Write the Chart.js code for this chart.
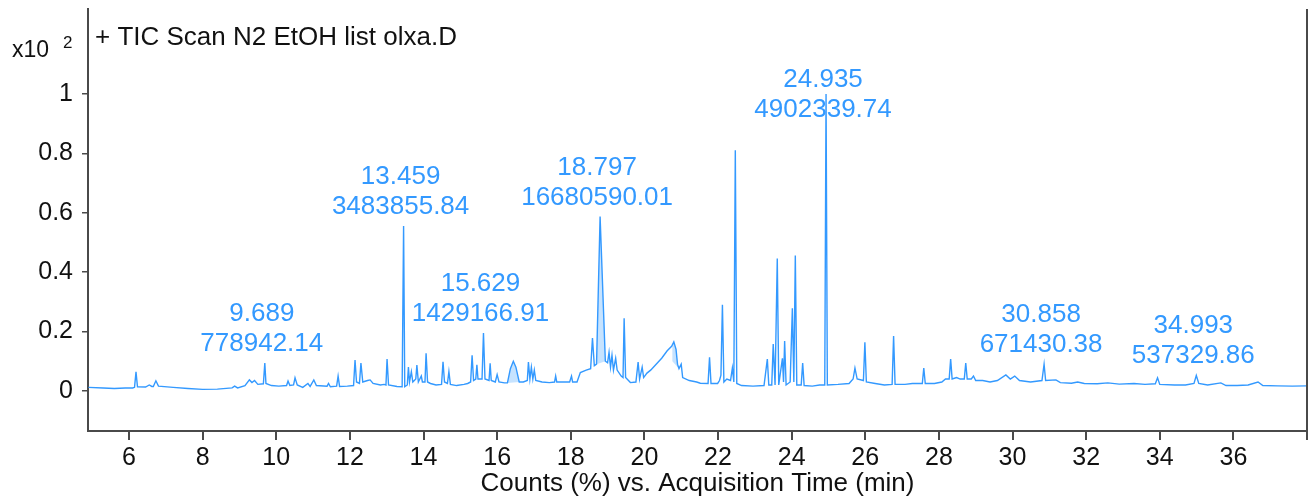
<!DOCTYPE html>
<html>
<head>
<meta charset="utf-8">
<script src="https://cdn.jsdelivr.net/npm/chart.js@4.4.1/dist/chart.umd.min.js"></script>
<style>
  html, body { margin: 0; padding: 0; background: #fff; }
  #wrap { width: 1312px; height: 499px; }
</style>
</head>
<body>
<div id="wrap"><canvas id="tic" width="1312" height="499"></canvas></div>
<script>
  // retention time (min), counts (x10^2 %)
  const trace = [
    [4.9,0.012],[5.3,0.010],[5.6,0.008],[5.9,0.010],[6.1,0.010],[6.15,0.012],[6.19,0.064],[6.23,0.014],
    [6.45,0.013],[6.55,0.02],[6.62,0.015],[6.66,0.015],[6.73,0.034],[6.8,0.016],[7.2,0.012],[7.6,0.008],
    [8.0,0.005],[8.4,0.006],[8.8,0.010],[8.87,0.016],[8.95,0.010],[9.15,0.018],[9.27,0.037],[9.34,0.028],
    [9.41,0.035],[9.5,0.022],[9.65,0.024],[9.689,0.094],[9.72,0.025],[9.87,0.018],[10.07,0.016],[10.28,0.018],
    [10.32,0.033],[10.37,0.018],[10.47,0.02],[10.51,0.044],[10.57,0.02],[10.72,0.012],[10.86,0.025],[10.92,0.015],
    [11.02,0.037],[11.09,0.018],[11.38,0.016],[11.42,0.025],[11.47,0.014],[11.64,0.016],[11.68,0.05],[11.72,0.015],
    [11.93,0.016],[12.1,0.018],[12.14,0.104],[12.18,0.03],[12.26,0.025],[12.3,0.094],[12.35,0.03],[12.48,0.035],
    [12.55,0.037],[12.63,0.025],[12.83,0.02],[12.93,0.022],[12.98,0.02],[13.01,0.107],[13.05,0.02],[13.28,0.015],
    [13.42,0.014],[13.459,0.555],[13.49,0.014],[13.56,0.02],[13.59,0.08],[13.62,0.03],[13.67,0.065],[13.71,0.03],
    [13.79,0.04],[13.82,0.087],[13.86,0.03],[13.94,0.05],[13.97,0.03],[14.04,0.03],[14.07,0.127],[14.11,0.03],
    [14.19,0.025],[14.34,0.02],[14.49,0.022],[14.53,0.098],[14.57,0.03],[14.65,0.025],[14.69,0.065],[14.73,0.022],
    [14.9,0.018],[15.1,0.022],[15.2,0.025],[15.28,0.03],[15.32,0.12],[15.36,0.035],[15.42,0.04],[15.45,0.088],
    [15.48,0.04],[15.59,0.04],[15.629,0.195],[15.67,0.04],[15.78,0.035],[15.81,0.093],[15.84,0.035],[15.95,0.03],
    [16.0,0.055],[16.05,0.03],[16.2,0.027],[16.28,0.027],[16.36,0.075],[16.44,0.100],[16.51,0.08],[16.6,0.03],
    [16.71,0.03],[16.82,0.035],[16.85,0.097],[16.89,0.04],[16.93,0.08],[16.97,0.04],[17.01,0.07],[17.05,0.035],
    [17.22,0.03],[17.42,0.028],[17.56,0.03],[17.59,0.05],[17.62,0.03],[17.82,0.03],[17.97,0.03],[18.02,0.05],
    [18.05,0.03],[18.17,0.03],[18.26,0.062],[18.42,0.07],[18.54,0.075],[18.59,0.178],[18.64,0.085],[18.70,0.09],
    [18.797,0.587],[18.94,0.10],[19.0,0.095],[19.04,0.13],[19.08,0.08],[19.12,0.12],[19.16,0.07],[19.22,0.11],
    [19.26,0.07],[19.37,0.05],[19.42,0.045],[19.45,0.245],[19.49,0.045],[19.62,0.028],[19.77,0.03],[19.83,0.097],
    [19.87,0.04],[19.94,0.08],[19.98,0.045],[20.07,0.06],[20.17,0.07],[20.32,0.09],[20.47,0.11],[20.62,0.135],
    [20.74,0.15],[20.8,0.165],[20.86,0.14],[20.9,0.09],[20.94,0.075],[21.0,0.09],[21.04,0.045],[21.22,0.035],
    [21.42,0.03],[21.52,0.026],[21.73,0.025],[21.77,0.113],[21.81,0.025],[21.99,0.025],[22.04,0.035],[22.08,0.053],
    [22.12,0.29],[22.16,0.03],[22.24,0.04],[22.34,0.035],[22.39,0.077],[22.43,0.03],[22.47,0.81],[22.51,0.025],
    [22.64,0.018],[22.95,0.016],[23.25,0.018],[23.34,0.107],[23.38,0.02],[23.46,0.02],[23.5,0.158],[23.55,0.02],
    [23.61,0.446],[23.65,0.02],[23.75,0.11],[23.78,0.03],[23.81,0.168],[23.85,0.02],[23.96,0.03],[24.02,0.278],
    [24.06,0.03],[24.1,0.456],[24.14,0.02],[24.26,0.02],[24.3,0.094],[24.34,0.018],[24.56,0.016],[24.76,0.02],
    [24.9,0.02],[24.935,1.0],[24.97,0.02],[25.26,0.022],[25.56,0.025],[25.67,0.04],[25.72,0.077],[25.78,0.04],
    [25.95,0.035],[25.99,0.164],[26.03,0.03],[26.27,0.025],[26.52,0.02],[26.73,0.022],[26.77,0.185],[26.81,0.022],
    [27.08,0.022],[27.28,0.025],[27.55,0.025],[27.59,0.077],[27.63,0.025],[27.88,0.025],[28.08,0.03],[28.18,0.04],
    [28.28,0.04],[28.32,0.107],[28.36,0.04],[28.48,0.045],[28.58,0.04],[28.69,0.04],[28.73,0.094],[28.77,0.04],
    [28.88,0.04],[28.94,0.05],[29.0,0.035],[29.19,0.035],[29.39,0.03],[29.59,0.035],[29.82,0.054],[29.94,0.04],
    [30.06,0.05],[30.19,0.035],[30.49,0.03],[30.8,0.035],[30.858,0.09],[30.9,0.035],[31.18,0.037],[31.3,0.028],
    [31.6,0.026],[31.77,0.03],[31.95,0.025],[32.3,0.024],[32.59,0.027],[32.9,0.023],[33.3,0.025],[33.6,0.022],
    [33.88,0.024],[33.94,0.044],[34.0,0.022],[34.4,0.02],[34.7,0.02],[34.93,0.025],[34.993,0.052],[35.06,0.025],
    [35.3,0.02],[35.66,0.027],[35.8,0.018],[36.1,0.018],[36.4,0.02],[36.67,0.03],[36.8,0.018],[37.2,0.017],
    [37.6,0.016],[38,0.017]
  ];

  // integrated (shaded) peak areas
  const shade1 = [[16.28,0.027],[16.36,0.075],[16.44,0.100],[16.51,0.08],[16.6,0.03]];
  const shade2 = [[18.70,0.09],[18.797,0.587],[18.94,0.10]];
  const shade3 = [[20.76,0.155],[20.8,0.165],[20.86,0.14],[20.9,0.09],[20.94,0.075],[20.76,0.1]];

  const labelTimes = [9.689, 13.459, 15.629, 18.797, 24.935, 30.858, 34.993];
  const labelAreas = ['778942.14', '3483855.84', '1429166.91', '16680590.01', '4902339.74', '671430.38', '537329.86'];
  const labelPeaks = [0.094, 0.555, 0.195, 0.587, 1.0, 0.09, 0.052];

  const xTicks = [6, 8, 10, 12, 14, 16, 18, 20, 22, 24, 26, 28, 30, 32, 34, 36, 38];
  const yTicks = [0, 0.2, 0.4, 0.6, 0.8, 1];
  const yTickLabels = ['0', '0.2', '0.4', '0.6', '0.8', '1'];

  const BLUE = '#3399ff';
  const AXIS = '#4a4a4a';
  const FONT = '"Liberation Sans", Arial, sans-serif';

  const pts = arr => arr.map(p => ({x: p[0], y: p[1]}));
  const shadeSet = arr => ({
    data: pts(arr), fill: 'shape', backgroundColor: 'rgba(51,153,255,0.28)',
    borderWidth: 0, pointRadius: 0, tension: 0
  });
  const noPad = s => { s.paddingTop = 0; s.paddingBottom = 0; s.paddingLeft = 0; s.paddingRight = 0; };

  const decor = {
    id: 'decor',
    afterDatasetsDraw(chart) {
      const {ctx, scales: {x, y}} = chart;
      ctx.save();
      ctx.fillStyle = BLUE;
      ctx.font = '26px ' + FONT;
      ctx.textAlign = 'center';
      ctx.textBaseline = 'alphabetic';
      labelTimes.forEach((t, i) => {
        const px = x.getPixelForValue(t) - 3;
        let base = y.getPixelForValue(labelPeaks[i]) - 12;
        if (base < 117) base = 117;
        ctx.fillText(labelAreas[i], px, base);
        ctx.fillText(t.toFixed(3), px, base - 30);
      });
      ctx.restore();
    },
    afterDraw(chart) {
      const {ctx, chartArea: a} = chart;
      ctx.save();
      ctx.strokeStyle = AXIS;
      ctx.lineWidth = 2;
      ctx.beginPath();
      ctx.moveTo(a.right, a.top);
      ctx.lineTo(a.right, a.bottom);
      ctx.stroke();

      ctx.fillStyle = '#111';
      ctx.textAlign = 'left';
      ctx.textBaseline = 'alphabetic';
      ctx.font = '26px ' + FONT;
      ctx.fillText('+ TIC Scan N2 EtOH list olxa.D', 95, 45);
      ctx.font = '23px ' + FONT;
      ctx.fillText('x10', 12, 57);
      ctx.font = '17px ' + FONT;
      ctx.fillText('2', 63, 48);
      ctx.restore();
    }
  };

  new Chart(document.getElementById('tic'), {
    type: 'line',
    data: {
      datasets: [
        {data: pts(trace), borderColor: BLUE, borderWidth: 1.4, pointRadius: 0, tension: 0, fill: false},
        shadeSet(shade1),
        shadeSet(shade2),
        shadeSet(shade3)
      ]
    },
    options: {
      responsive: false,
      animation: false,
      devicePixelRatio: 1,
      layout: {padding: {top: 9, right: 5, left: 0, bottom: 0}},
      plugins: {legend: {display: false}, tooltip: {enabled: false}},
      scales: {
        x: {
          type: 'linear', min: 4.886, max: 38,
          afterFit: s => { s.height = 68; noPad(s); },
          afterBuildTicks: s => { s.ticks = xTicks.map(v => ({value: v})); },
          ticks: {
            color: '#111', font: {family: FONT, size: 25}, padding: 3, maxRotation: 0,
            callback: v => (v === 38 ? '' : String(v))
          },
          grid: {drawOnChartArea: false, drawTicks: true, tickLength: 9, color: AXIS, lineWidth: 2},
          border: {display: true, color: AXIS, width: 2},
          title: {
            display: true, text: 'Counts (%) vs. Acquisition Time (min)', color: '#111',
            font: {family: FONT, size: 26}, padding: {top: 0, bottom: 0}
          }
        },
        y: {
          type: 'linear', min: -0.135, max: 1.286,
          afterFit: s => { s.width = 88; noPad(s); },
          afterBuildTicks: s => { s.ticks = yTicks.map(v => ({value: v})); },
          ticks: {
            color: '#111', font: {family: FONT, size: 25}, padding: 9,
            callback: v => yTickLabels[yTicks.indexOf(v)]
          },
          grid: {drawOnChartArea: false, drawTicks: true, tickLength: 6, color: AXIS, lineWidth: 1.5},
          border: {display: true, color: AXIS, width: 2}
        }
      }
    },
    plugins: [decor]
  });
</script>
</body>
</html>
